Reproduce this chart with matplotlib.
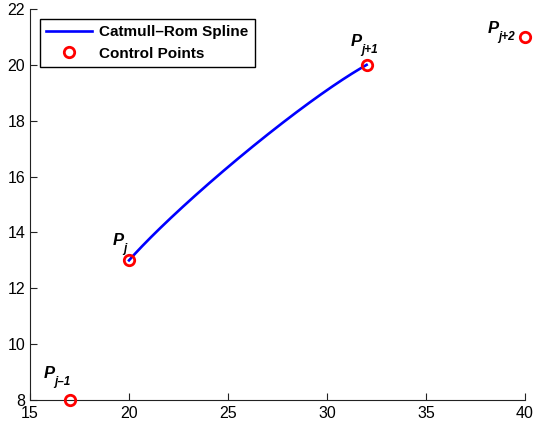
import numpy as np
import matplotlib
matplotlib.use("Agg")
import matplotlib.pyplot as plt

plt.rcParams['font.family'] = ['Liberation Sans', 'DejaVu Sans']

# Control points
ctrl_x = [17, 20, 32, 40]
ctrl_y = [8, 13, 20, 21]
ctrl_subs = ['j\u20131', 'j', 'j+1', 'j+2']
label_x = [15.71, 19.19, 31.21, 38.13]
label_y = [8.79, 13.54, 20.68, 21.14]

x_ticks = [15, 20, 25, 30, 35, 40]
y_ticks = [8, 10, 12, 14, 16, 18, 20, 22]

# Uniform Catmull-Rom segment between P1 and P2
P = np.array(list(zip(ctrl_x, ctrl_y)), dtype=float)
t = np.linspace(0, 1, 200)[:, None]
P0, P1, P2, P3 = P
curve = 0.5 * (2 * P1 + (-P0 + P2) * t + (2 * P0 - 5 * P1 + 4 * P2 - P3) * t ** 2
               + (-P0 + 3 * P1 - 3 * P2 + P3) * t ** 3)

fig = plt.figure(figsize=(5.34, 4.25), dpi=100)
ax = fig.add_axes([30 / 534, 25 / 425, 495 / 534, 391 / 425])

ax.plot(curve[:, 0], curve[:, 1], color='#0000ff', lw=1.9, label='Catmull\u2013Rom Spline', zorder=2)
ax.plot(ctrl_x, ctrl_y, 'o', ls='none', mfc='none', mec='#ff0000', mew=2.0, ms=7.5,
        label='Control Points', zorder=3, clip_on=False)

for lx, ly, sub in zip(label_x, label_y, ctrl_subs):
    ax.text(lx, ly, 'P', fontsize=12, fontweight='bold', fontstyle='italic',
            ha='left', va='baseline')
    ax.annotate(sub, xy=(lx, ly), xytext=(10, -7), textcoords='offset pixels',
                fontsize=8.5, fontweight='bold', fontstyle='italic',
                ha='left', va='baseline')

ax.set_xlim(15, 40)
ax.set_ylim(8, 22)
ax.set_xticks(x_ticks)
ax.set_yticks(y_ticks)
ax.tick_params(direction='in', length=5, width=0.8, labelsize=11.5, colors='#222222', labelcolor='black')
ax.tick_params(axis='x', pad=4)
ax.tick_params(axis='y', pad=3.5)
for s in ['top', 'right']:
    ax.spines[s].set_visible(False)
for s in ['left', 'bottom']:
    ax.spines[s].set_linewidth(0.8)
    ax.spines[s].set_color('#222222')

leg = ax.legend(loc='upper left', bbox_to_anchor=(0.02, 0.975), fancybox=False,
                edgecolor='black', framealpha=1, handlelength=3.0,
                prop={'weight': 'bold', 'size': 11}, borderpad=0.4, labelspacing=0.5,
                handletextpad=0.5, borderaxespad=0)
leg.get_frame().set_linewidth(1.0)

fig.savefig('out.png', dpi=100)
